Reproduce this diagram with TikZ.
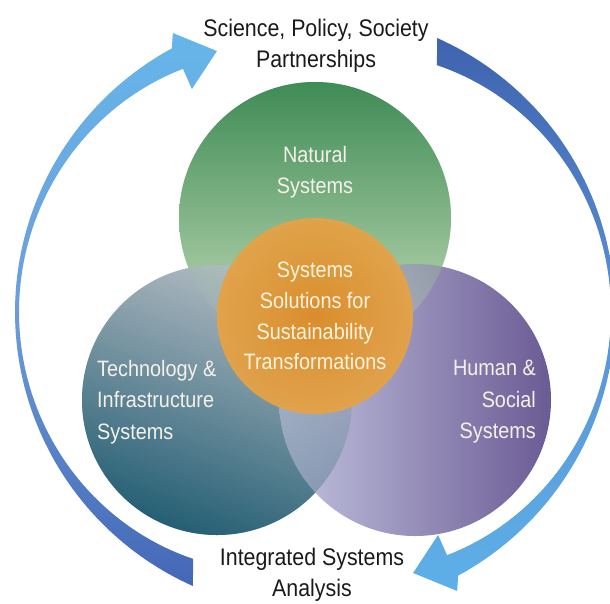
\documentclass[tikz,border=0pt]{standalone}
\usepackage{fontspec}
\setmainfont{Liberation Sans}[FakeStretch=0.89]
\usetikzlibrary{calc}

\definecolor{grnTop}{HTML}{3F8B56}
\definecolor{grnBot}{HTML}{C8DFBB}
\definecolor{tealLt}{HTML}{B4BCC3}
\definecolor{tealDk}{HTML}{255F74}
\definecolor{purLt}{HTML}{C2C4DF}
\definecolor{purDk}{HTML}{6B5B94}
\definecolor{orC}{HTML}{DC8C28}
\definecolor{orM}{HTML}{E3A044}
\definecolor{orE}{HTML}{E9B46C}
\definecolor{arLt}{HTML}{66B6EA}
\definecolor{arMid}{HTML}{6C9DDA}
\definecolor{arDk}{HTML}{4467B6}
\definecolor{arDkB}{HTML}{3F63B0}
\definecolor{arMidB}{HTML}{5A92D4}
\definecolor{arLtB}{HTML}{5DB0E8}
\definecolor{lbl}{HTML}{F5F1EA}
\definecolor{lblO}{HTML}{FFF4DE}
\definecolor{ink}{HTML}{1A1A1A}

\pgfdeclareradialshading{orglow}{\pgfpoint{0bp}{0bp}}{color(0bp)=(orC); color(22bp)=(orM); color(50bp)=(orE)}

\newcommand{\cycarrow}[1]{%
 plot[domain=246:118.5,samples=90] ({\x+#1}:300)
 -- ({117+#1}:313.1) -- ({110.6+#1}:278.8) -- ({118.9+#1}:254.7)
 -- plot[domain=118.5:243.7,samples=90] ({\x+#1}:{296-0.0051*(\x-180)*(\x-180)}) -- cycle}

\tikzset{
  bigtxt/.style={font=\fontsize{24}{31.5}\selectfont, text=ink, align=center, inner sep=0pt},
  circtxt/.style={font=\fontsize{22.3}{31.5}\selectfont, text=lbl, inner sep=0pt},
}

\begin{document}
\begin{tikzpicture}[x=1pt,y=1pt]
\useasboundingbox (0,0) rectangle (610,-603);
\clip (0,0) rectangle (610,-603);

% circles (opaque base)
\shade[top color=grnTop, bottom color=grnBot] (315,-218) circle (136);
\shade[top color=tealLt, bottom color=tealDk, shading angle=-20] (217,-400) circle (135);
\shade[left color=purLt, right color=purDk] (415,-400) circle (136);
% blend overlaps
\shade[top color=grnTop, bottom color=grnBot, opacity=0.35] (315,-218) circle (136);
\shade[top color=tealLt, bottom color=tealDk, shading angle=-20, opacity=0.45] (217,-400) circle (135);
% centre circle
\shade[shading=orglow, opacity=0.96] (315,-316) circle (98);

% cycle arrows
\begin{scope}[shift={(315,-312)}]
\shade[top color=arLt, bottom color=arDk, middle color=arMid] \cycarrow{0};
\shade[top color=arDkB, bottom color=arLtB, middle color=arMidB] \cycarrow{180};
\end{scope}

% texts
\node[bigtxt] (partner) at (316,-46) {Science, Policy, Society\\Partnerships};
\node[bigtxt] (analysis) at (312,-575) {Integrated Systems\\Analysis};
\node[circtxt, align=center] (natural) at (315,-172) {Natural\\Systems};
\node[circtxt, align=center, text=lblO, font=\fontsize{22.3}{30.7}\selectfont] (core) at (315,-316) {Systems\\Solutions for\\Sustainability\\Transformations};
\node[circtxt, align=left, anchor=west] (tech) at (97,-402) {Technology \&\\Infrastructure\\Systems};
\node[circtxt, align=right, anchor=east] (human) at (536,-402) {Human \&\\Social\\Systems};
\end{tikzpicture}
\end{document}
